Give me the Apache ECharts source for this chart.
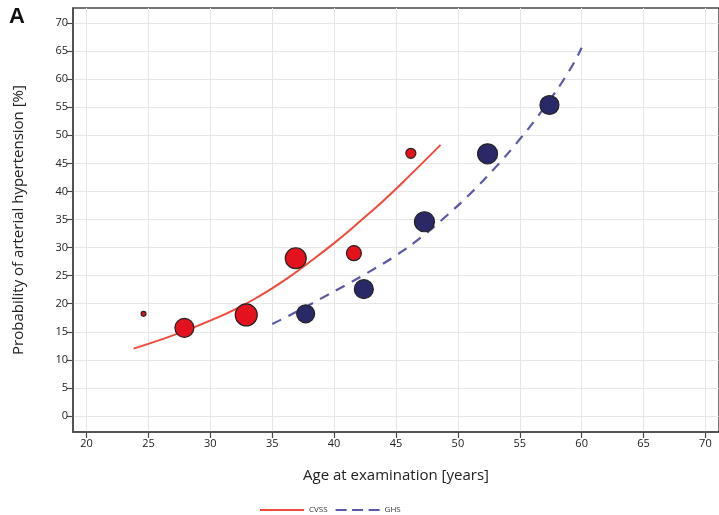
<!DOCTYPE html>
<html>
<head>
<meta charset="utf-8">
<script src="https://cdn.jsdelivr.net/npm/echarts@6/dist/echarts.min.js"></script>
<style>
html,body{margin:0;padding:0;background:#fff;}
#chart{width:719px;height:515px;}
</style>
</head>
<body>
<div id="chart"></div>
<script>
// ---- data ----
const xTicks = [20, 25, 30, 35, 40, 45, 50, 55, 60, 65, 70];
const yTicks = [0, 5, 10, 15, 20, 25, 30, 35, 40, 45, 50, 55, 60, 65, 70];

// observed points (age, probability %) and relative weights (bubble area)
const cvssAge = [24.6, 27.9, 32.9, 36.9, 41.6, 46.2];
const cvssProb = [18.2, 15.7, 18.0, 28.1, 29.0, 46.8];
const cvssWeight = [6, 90, 121, 110, 56, 25];

const ghsAge = [37.7, 42.4, 47.3, 52.4, 57.4];
const ghsProb = [18.2, 22.6, 34.6, 46.7, 55.4];
const ghsWeight = [81, 90, 100, 100, 90];

// fitted curves
const cvssCurveAge = [23.8, 26, 28, 30, 32, 34, 36, 38, 40, 42, 44, 46, 48.6];
const cvssCurveProb = [12.0, 13.6, 15.2, 17.0, 19.0, 21.4, 24.2, 27.4, 30.8, 34.5, 38.4, 42.6, 48.3];

const ghsCurveAge = [35, 37, 39, 41, 43, 45, 47, 49, 51, 53, 55, 57, 59, 60];
const ghsCurveProb = [16.4, 18.6, 21.0, 23.4, 25.9, 28.6, 31.8, 35.5, 39.6, 44.2, 49.3, 55.0, 61.5, 65.6];

const zip = (a, b) => a.map((v, i) => [v, b[i]]);
const zip3 = (a, b, c) => a.map((v, i) => [v, b[i], c[i]]);
const bubble = (d) => 2 * Math.sqrt(d[2]);

const font = '"Open Sans", "Liberation Sans", Arial, sans-serif';
const chart = echarts.init(document.getElementById('chart'), null, {renderer: 'canvas'});
chart.setOption({
  animation: false,
  backgroundColor: '#fff',
  graphic: [{
    type: 'text', left: 9, top: 6,
    style: {text: 'A', font: 'bold 22px "Liberation Sans", Arial, sans-serif', fill: '#111'}
  }],
  grid: {
    left: 73, top: 8, width: 652, height: 424,
    show: true, borderColor: '#4a4a4a', borderWidth: 1.5, backgroundColor: 'transparent'
  },
  legend: {
    data: [
      {name: 'CVSS', icon: 'path://M0,0h44v2h-44z'},
      {name: 'GHS', icon: 'path://M0,0h11v2h-11z M16.5,0h11v2h-11z M33,0h11v2h-11z'}
    ],
    left: 255, top: 501,
    itemWidth: 44, itemHeight: 2, itemGap: 8,
    textStyle: {fontSize: 8, color: '#333', fontFamily: font}
  },
  xAxis: {
    type: 'value', min: 18.9, max: 71.1,
    name: 'Age at examination [years]', nameLocation: 'middle', nameGap: 36,
    nameTextStyle: {fontSize: 15, color: '#222', fontFamily: font},
    axisLine: {show: true, onZero: false, lineStyle: {color: '#4a4a4a', width: 1.5}},
    axisTick: {show: true, inside: false, length: 6, customValues: xTicks, lineStyle: {color: '#4a4a4a', width: 1.2}},
    axisLabel: {customValues: xTicks, fontSize: 11, color: '#222', margin: 6, fontFamily: font},
    splitLine: {show: true, lineStyle: {color: '#e6e6e6', width: 1}}
  },
  yAxis: {
    type: 'value', min: -2.85, max: 72.68,
    name: 'Probability of arterial hypertension [%]', nameLocation: 'middle', nameGap: 47,
    nameTextStyle: {fontSize: 15, color: '#222', fontFamily: font},
    axisLine: {show: true, onZero: false, lineStyle: {color: '#4a4a4a', width: 1.5}},
    axisTick: {show: true, inside: false, length: 6, customValues: yTicks, lineStyle: {color: '#4a4a4a', width: 1.2}},
    axisLabel: {customValues: yTicks, fontSize: 11, color: '#222', margin: 5, fontFamily: font},
    splitLine: {show: true, lineStyle: {color: '#e6e6e6', width: 1}}
  },
  series: [
    {
      name: 'CVSS', type: 'line', data: zip(cvssCurveAge, cvssCurveProb),
      smooth: true, showSymbol: false, symbol: 'none', z: 2,
      lineStyle: {color: '#f04a3c', width: 2}, itemStyle: {color: '#f04a3c'}
    },
    {
      name: 'GHS', type: 'line', data: zip(ghsCurveAge, ghsCurveProb),
      smooth: true, showSymbol: false, symbol: 'none', z: 2,
      lineStyle: {color: '#5b58a6', width: 2.2, type: [10, 8]}, itemStyle: {color: '#5b58a6'}
    },
    {
      name: 'CVSS points', type: 'scatter', data: zip3(cvssAge, cvssProb, cvssWeight),
      symbolSize: bubble, z: 3,
      itemStyle: {color: '#e3121c', borderColor: '#222', borderWidth: 1.2, opacity: 1}
    },
    {
      name: 'GHS points', type: 'scatter', data: zip3(ghsAge, ghsProb, ghsWeight),
      symbolSize: bubble, z: 3,
      itemStyle: {color: '#2a2968', borderColor: '#222', borderWidth: 1.2, opacity: 1}
    }
  ]
});
</script>
</body>
</html>
